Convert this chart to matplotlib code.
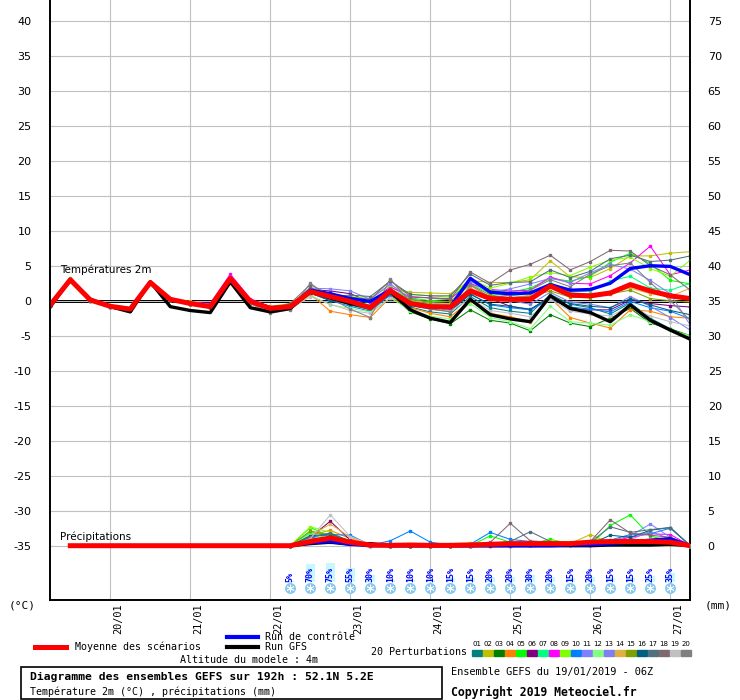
import matplotlib
matplotlib.use("Agg")
import matplotlib.pyplot as plt
import matplotlib.transforms as mtransforms
from matplotlib.lines import Line2D
from matplotlib.patches import Rectangle

# forecast steps, hours after 19/01/2019 06Z
hours = list(range(0, 193, 6))
day_hours = [18, 42, 66, 90, 114, 138, 162, 186]
day_labels = ["20/01", "21/01", "22/01", "23/01", "24/01", "25/01", "26/01", "27/01"]

temp_ticks = list(range(-35, 41, 5))
rr_ticks = list(range(0, 76, 5))

# 2m temperature (°C)
mean_temp = [-0.6, 3.0, 0.1, -0.8, -1.2, 2.6, 0.2, -0.4, -0.85, 3.2, -0.1, -1.1,
             -0.85, 1.3, 0.6, -0.1, -1.0, 1.4, -0.4, -0.85, -0.9, 1.4, 0.3, 0.2,
             0.2, 2.1, 0.8, 0.7, 1.1, 2.3, 1.4, 0.7, 0.3]
ctrl_temp = [-0.6, 3.0, 0.1, -0.8, -1.2, 2.6, 0.2, -0.4, -0.8, 3.0, -0.1, -1.0,
             -0.85, 1.5, 1.0, 0.3, -0.1, 1.5, -0.4, -0.85, -0.9, 3.2, 1.2, 1.0,
             1.1, 2.3, 1.5, 1.6, 2.5, 4.6, 5.0, 4.9, 3.7]
gfs_temp = [-0.85, 3.0, 0.2, -0.85, -1.6, 2.7, -0.85, -1.4, -1.7, 2.7, -1.0, -1.6,
            -1.1, 1.3, 0.4, -0.4, -0.9, 1.3, -1.3, -2.5, -3.1, 0.2, -2.0, -2.6,
            -3.0, 0.7, -1.1, -1.7, -3.0, -0.6, -2.8, -4.2, -5.5]

pert01 = [-0.7, 2.9, 0.1, -0.9, -1.3, 2.6, 0.1, -0.5, -0.9, 3.1, -0.2, -1.2,
          -1.0, 1.2, 0.2, -0.6, -1.3, 1.0, -0.9, -1.6, -1.9, 0.6, -1.0, -1.5,
          -1.8, 0.9, -0.5, -1.0, -1.9, -0.3, -2.5, -4.0, -5.4]
pert02 = [-0.5, 3.0, 0.2, -0.7, -1.1, 2.7, 0.3, -0.1, -0.6, 3.3, 0.1, -0.8,
          -0.4, 1.6, 0.8, 0.4, 0.0, 1.8, 1.2, 1.1, 1.0, 2.9, 2.6, 2.6,
          3.0, 5.7, 3.4, 3.3, 4.6, 6.4, 6.4, 6.8, 7.0]
pert03 = [-0.6, 3.1, 0.0, -0.9, -1.2, 2.5, 0.2, -0.4, -0.9, 3.1, -0.2, -1.2,
          -1.0, 1.0, 0.3, -0.6, -1.2, 0.9, -1.6, -2.6, -3.3, -1.3, -2.8, -3.2,
          -4.3, -2.0, -3.2, -3.7, -2.5, -1.1, -3.2, -4.0, -5.0]
pert04 = [-0.7, 2.9, 0.1, -0.8, -1.3, 2.6, 0.1, -0.5, -1.0, 3.0, -0.3, -1.5,
          -1.1, 0.9, -1.5, -2.0, -2.4, 0.5, -1.0, -1.8, -2.3, 0.0, -1.8, -2.3,
          -3.0, 0.4, -2.4, -3.2, -3.9, -1.3, -1.5, -2.3, -2.5]
pert05 = [-0.4, 3.2, 0.2, -0.8, -1.2, 2.7, 0.3, -0.3, -0.7, 3.4, 0.0, -1.0,
          -0.8, 1.4, 0.6, 0.2, -0.3, 1.6, 0.4, 0.0, 0.2, 3.0, 1.5, 1.2,
          1.8, 3.2, 2.8, 3.5, 5.5, 6.8, 5.3, 2.9, 2.4]
pert06 = [-0.6, 3.0, 0.1, -0.8, -1.2, 2.6, 0.2, -0.4, -0.8, 3.2, -0.1, -1.1,
          -0.9, 1.6, 1.4, 1.0, -0.2, 0.9, -0.5, -0.9, -1.2, 1.5, 0.3, -0.8,
          -1.3, 0.6, -1.3, -1.3, -1.3, 0.1, -0.4, -0.7, -0.9]
pert07 = [-0.5, 3.0, 0.2, -0.8, -1.1, 2.6, 0.2, -0.3, -0.8, 3.3, 0.0, -1.0,
          -0.7, 1.5, 0.8, 0.0, -0.6, 1.8, 0.0, -0.5, -0.6, 2.5, 1.0, 0.8,
          0.5, 2.6, 1.2, 1.4, 2.8, 3.5, 1.8, 1.5, 2.5]
pert08 = [-0.5, 3.0, 0.1, -0.7, -1.1, 2.7, 0.3, -0.2, -0.4, 3.8, 0.3, -0.9,
          -0.6, 1.3, 0.9, 0.4, -0.2, 2.0, 0.5, 0.4, 0.3, 2.4, 1.6, 1.4,
          1.5, 3.4, 2.5, 2.4, 3.6, 5.4, 7.8, 3.7, 4.4]
pert09 = [-0.5, 3.1, 0.2, -0.7, -1.2, 2.6, 0.3, -0.2, -0.7, 3.3, 0.1, -0.9,
          -0.5, 1.7, 1.0, 0.6, 0.3, 2.2, 0.9, 0.7, 0.5, 3.1, 1.8, 2.5,
          3.4, 4.0, 3.6, 4.8, 5.8, 6.2, 4.6, 3.5, 5.8]
pert10 = [-0.8, 2.8, 0.0, -0.9, -1.3, 2.5, 0.1, -0.5, -0.9, 3.0, -0.2, -1.3,
          -0.9, 1.1, 0.0, -0.8, -1.5, 0.8, -0.6, -1.0, -1.4, 1.0, -0.6, -1.0,
          -1.3, 0.2, -0.9, -1.2, -1.6, -0.1, -1.0, -1.5, -2.6]
pert11 = [-0.6, 3.0, 0.1, -0.8, -1.2, 2.6, 0.2, -0.4, -0.8, 3.4, 0.0, -1.0,
          -0.6, 1.8, 1.7, 1.4, 0.2, 2.4, 0.3, -0.3, -0.6, 2.8, 1.2, 1.7,
          2.4, 3.2, 2.6, 4.0, 5.2, 4.5, 2.9, 1.0, -3.5]
pert12 = [-0.6, 2.9, 0.1, -0.9, -1.3, 2.5, 0.1, -0.5, -0.9, 3.0, -0.2, -1.3,
          -1.2, 0.8, -0.6, -1.1, -1.6, 0.4, -1.4, -2.2, -2.6, -0.4, -2.4, -3.0,
          -4.0, -0.8, -3.0, -3.2, -3.5, -2.0, -3.0, -4.2, -5.0]
pert13 = [-0.6, 3.0, 0.1, -0.8, -1.2, 2.6, 0.2, -0.4, -0.8, 3.2, -0.1, -1.1,
          -0.7, 1.2, 0.4, -0.3, -0.9, 1.2, -0.2, -0.6, -0.8, 1.8, 0.2, 0.0,
          -0.5, 1.2, -0.2, -0.5, -1.0, 0.6, -0.8, -2.4, -4.2]
pert14 = [-0.5, 3.0, 0.2, -0.8, -1.1, 2.6, 0.2, -0.2, -0.6, 3.1, 0.0, -1.4,
          -0.5, 1.0, 0.3, -0.2, -0.8, 1.5, 0.1, -0.3, -0.4, 1.8, 0.6, 0.4,
          0.8, 1.9, 1.0, 0.9, 1.2, 1.8, 1.0, 0.6, 1.8]
pert15 = [-0.6, 3.0, 0.1, -0.8, -1.2, 2.6, 0.2, -0.3, -0.7, 3.2, -0.1, -1.1,
          -0.8, 1.3, 0.5, -0.1, -0.7, 1.4, 0.2, -0.2, -0.1, 2.3, 0.8, 0.4,
          0.6, 1.4, 0.5, 0.4, 1.0, 1.5, 0.3, 0.0, -0.2]
pert16 = [-0.7, 2.9, 0.0, -0.9, -1.2, 2.6, 0.1, -0.4, -0.9, 3.1, -0.2, -1.2,
          -1.0, 1.1, 0.0, -0.4, -1.1, 1.1, -0.7, -1.2, -1.5, 0.9, -0.5, -0.8,
          -1.2, 0.5, -0.4, -0.8, -1.0, 0.3, -0.6, -1.4, -2.0]
pert17 = [-0.6, 3.0, 0.1, -0.8, -1.2, 2.6, 0.2, -0.4, -0.8, 3.2, -0.1, -1.0,
          -0.9, 1.9, 0.6, 0.8, 0.6, 2.8, 0.9, 0.7, 0.7, 3.8, 2.2, 2.6,
          2.7, 4.4, 3.3, 4.2, 6.0, 6.5, 5.6, 5.8, 6.4]
pert18 = [-0.6, 3.0, 0.1, -0.8, -1.2, 2.6, 0.2, -0.4, -0.8, 3.1, -0.1, -1.1,
          -0.4, 2.3, 0.8, 0.5, 0.2, 2.9, 0.6, 0.4, 0.2, 4.1, 2.5, 4.4,
          5.2, 6.5, 4.4, 5.6, 7.2, 7.1, 5.0, 3.7, 1.5]
pert19 = [-0.7, 3.0, 0.0, -0.8, -1.3, 2.6, 0.1, -0.5, -0.9, 2.9, -0.3, -1.6,
          -1.2, 0.6, -0.5, -1.4, -1.8, 0.4, -0.3, -1.0, -1.5, 0.3, -1.4, -1.8,
          -2.3, 0.2, -1.5, -1.9, -2.2, -0.8, -2.2, -3.0, -3.6]
pert20 = [-0.8, 2.8, 0.0, -0.9, -1.3, 2.5, 0.1, -0.5, -1.0, 2.5, -0.4, -1.8,
          -1.3, 2.5, 0.4, -1.2, -2.4, 3.1, -0.2, -1.2, -1.6, 2.2, 0.5, 0.8,
          1.5, 3.0, 2.0, 3.8, 5.0, 5.4, 2.6, 0.0, -2.8]

pert_colors = ["#008080", "#c0c000", "#008000", "#ff8000", "#00ff00",
               "#800080", "#00ff80", "#ff00ff", "#80ff00", "#0080ff",
               "#8080ff", "#80ff80", "#7f7ff0", "#e0b040", "#80a000",
               "#006080", "#507080", "#806870", "#c0c0c0", "#808080"]
pert_names = ["01", "02", "03", "04", "05", "06", "07", "08", "09", "10",
              "11", "12", "13", "14", "15", "16", "17", "18", "19", "20"]

# precipitation (mm / 6h)
rr_hours = hours[1:]
mean_rr = [0, 0, 0, 0, 0, 0, 0, 0, 0, 0, 0,
           0.0, 0.6, 1.1, 0.5, 0.1, 0.05, 0.1, 0.05, 0.05, 0.1, 0.2,
           0.3, 0.3, 0.3, 0.3, 0.5, 0.6, 0.6, 0.6, 0.5, 0.0]
ctrl_rr = [0, 0, 0, 0, 0, 0, 0, 0, 0, 0, 0,
           0.0, 0.4, 0.6, 0.2, 0.0, 0.0, 0.0, 0.0, 0.0, 0.0, 0.0,
           0.0, 0.0, 0.0, 0.1, 0.1, 0.3, 0.5, 0.8, 1.0, 0.0]
gfs_rr = [0, 0, 0, 0, 0, 0, 0, 0, 0, 0, 0,
          0.0, 0.3, 0.5, 0.2, 0.3, 0.0, 0.0, 0.0, 0.0, 0.0, 0.0,
          0.0, 0.0, 0.0, 0.0, 0.0, 0.1, 0.1, 0.1, 0.2, 0.0]

pert_rr_hours = hours[12:]
pert01_rr = [0, 1.0, 0.8, 0.3, 0.1, 0, 0, 0, 0, 0, 0.1, 0.2, 0.1, 0.2, 0.2, 0.3, 0.6, 0.4, 0.5, 0.7, 0]
pert02_rr = [0, 2.0, 1.4, 0.4, 0, 0, 0, 0, 0.3, 0.4, 0.2, 0.1, 0.3, 0.4, 0.3, 1.6, 0.4, 0.2, 0.2, 0.3, 0]
pert03_rr = [0, 1.3, 1.6, 0.5, 0.1, 0, 0, 0, 0, 0, 0.1, 0.1, 0.2, 0.5, 0.2, 0.2, 0.4, 0.5, 0.6, 0.8, 0]
pert04_rr = [0, 1.5, 2.2, 1.0, 0.2, 0, 0, 0, 0, 0, 0, 0, 0.1, 0.2, 0.1, 0.1, 0.3, 0.2, 0.3, 0.4, 0]
pert05_rr = [0, 2.6, 1.3, 0.4, 0, 0, 0, 0, 0, 0, 1.4, 0.5, 0.3, 0.9, 0.3, 0.1, 2.9, 4.4, 1.4, 0.6, 0]
pert06_rr = [0, 1.2, 3.5, 0.8, 0.1, 0, 0, 0, 0, 0, 0, 0, 0.1, 0.3, 0.3, 0.1, 0.2, 0.3, 0.4, 0.3, 0]
pert07_rr = [0, 1.8, 0.9, 0.4, 0, 0, 0, 0, 0, 0, 0.3, 0.1, 0.1, 0.2, 0.1, 0.2, 0.5, 0.7, 0.6, 0.4, 0]
pert08_rr = [0, 0.9, 0.7, 0.2, 0, 0, 0, 0, 0, 0, 0.1, 0.1, 0.2, 0.3, 0.2, 0.3, 0.6, 1.2, 1.7, 1.6, 0]
pert09_rr = [0, 2.7, 1.9, 0.6, 0.1, 0, 0, 0, 0, 0, 0.2, 0.3, 0.4, 0.7, 0.5, 0.2, 0.4, 0.5, 0.6, 0.3, 0]
pert10_rr = [0, 1.1, 1.6, 1.5, 0.1, 0.7, 2.1, 0.5, 0.1, 0.2, 1.9, 0.9, 0.6, 0.3, 0.2, 0.2, 0.8, 1.6, 1.7, 2.5, 0]
pert11_rr = [0, 0.8, 0.6, 0.3, 0, 0, 0, 0, 0, 0, 0.1, 0.1, 0.2, 0.2, 0.1, 0.2, 0.7, 1.4, 3.1, 1.2, 0]
pert12_rr = [0, 1.6, 1.0, 0.4, 0.1, 0, 0, 0, 0, 0, 0.2, 0.1, 0.2, 0.4, 0.2, 0.1, 0.3, 0.2, 0.3, 0.2, 0]
pert13_rr = [0, 0.7, 1.2, 0.5, 0.1, 0, 0, 0, 0, 0, 0.1, 0.1, 0.1, 0.2, 0.2, 0.1, 0.4, 0.9, 2.0, 1.0, 0]
pert14_rr = [0, 1.4, 3.1, 1.2, 0.2, 0, 0, 0, 0.1, 0.2, 0.1, 0.1, 0.2, 0.4, 0.2, 0.3, 0.4, 0.3, 0.2, 0.3, 0]
pert15_rr = [0, 2.1, 1.5, 0.6, 0.1, 0, 0, 0, 0, 0.1, 0.2, 0.2, 0.3, 0.6, 0.4, 0.3, 0.5, 0.4, 0.3, 0.2, 0]
pert16_rr = [0, 1.4, 1.7, 0.7, 0.2, 0, 0, 0, 0, 0.1, 0.1, 0.3, 0.5, 0.2, 0.1, 0.2, 1.5, 1.2, 2.2, 2.6, 0]
pert17_rr = [0, 1.2, 1.8, 0.6, 0.1, 0, 0, 0, 0, 0.1, 0.3, 0.6, 2.0, 0.6, 0.3, 0.5, 2.7, 1.9, 2.3, 2.6, 0]
pert18_rr = [0, 0.9, 1.3, 0.5, 0.1, 0, 0, 0, 0, 0.1, 0.5, 3.2, 0.7, 0.5, 0.3, 0.6, 3.7, 1.8, 1.5, 1.2, 0]
pert19_rr = [0, 1.0, 4.4, 1.3, 0.2, 0, 0, 0, 0, 0, 0.1, 0.1, 0.2, 0.3, 0.2, 0.2, 0.4, 0.3, 0.4, 0.3, 0]
pert20_rr = [0, 0.8, 1.1, 0.4, 0.1, 0, 0, 0, 0, 0.1, 0.2, 0.3, 0.4, 0.3, 0.2, 0.3, 0.8, 0.6, 0.5, 0.4, 0]

# probability of snow (%)
snow_hours = hours[12:32]
snow_pct = [5, 70, 75, 55, 30, 10, 10, 10, 15, 15, 20, 20, 30, 20, 15, 20, 15, 15, 25, 35]

pert_temps = [pert01, pert02, pert03, pert04, pert05, pert06, pert07, pert08, pert09, pert10,
              pert11, pert12, pert13, pert14, pert15, pert16, pert17, pert18, pert19, pert20]
pert_rrs = [pert01_rr, pert02_rr, pert03_rr, pert04_rr, pert05_rr, pert06_rr, pert07_rr,
            pert08_rr, pert09_rr, pert10_rr, pert11_rr, pert12_rr, pert13_rr, pert14_rr,
            pert15_rr, pert16_rr, pert17_rr, pert18_rr, pert19_rr, pert20_rr]

W, H = 740, 700
MONO = "DejaVu Sans Mono"


def fx(px):
    return px / W


def fy(py):
    return 1 - py / H


fig = plt.figure(figsize=(W / 100, H / 100), dpi=100)
ax = fig.add_axes([fx(50.3), fy(600.3), (690.3 - 50.3) / W, 600.3 / H])
ax2 = ax.twinx()

t_bottom, t_top = -42.8, 42.96
ax.set_xlim(0, 192)
ax.set_ylim(t_bottom, t_top)
ax2.set_ylim(t_bottom + 35, t_top + 35)

ax.set_yticks(temp_ticks)
ax.set_yticklabels([str(t) for t in temp_ticks])
ax2.set_yticks(rr_ticks)
ax2.set_yticklabels([str(r) for r in rr_ticks])
ax.set_xticks(day_hours)
ax.set_xticklabels(day_labels, rotation=90, family=MONO, fontsize=7.4, va="top", ha="center")

ax.grid(True, color="#c0c0c0", lw=0.8)
ax.set_axisbelow(True)
ax2.grid(False)
ax.tick_params(axis="y", length=0, pad=13.5, labelsize=8)
ax.tick_params(axis="x", length=0, pad=2)
ax2.tick_params(axis="y", length=0, pad=12.5, labelsize=8)

offset = mtransforms.ScaledTranslation(8 / 100, 0, fig.dpi_scale_trans)
for lab in ax.get_xticklabels():
    lab.set_transform(lab.get_transform() + offset)

for a in (ax, ax2):
    a.spines["top"].set_visible(False)
    for side in ("left", "right", "bottom"):
        a.spines[side].set_color("black")
        a.spines[side].set_linewidth(1.2)

# 0°C reference
ax.axhline(0.1, color="black", lw=0.7, zorder=2)
ax.axhline(-0.12, color="black", lw=0.7, zorder=2)

# temperature
for vals, col in zip(pert_temps, pert_colors):
    ax.plot(hours, vals, color=col, lw=0.75, marker="s", ms=1.6, mec=col, zorder=3)
ax.plot(hours, gfs_temp, color="black", lw=2.4, zorder=4)
ax.plot(hours, ctrl_temp, color="#0000ff", lw=2.4, zorder=5)
ax.plot(hours, mean_temp, color="#ff0000", lw=3.6, zorder=6)

# precipitation on the right scale
for vals, col in zip(pert_rrs, pert_colors):
    ax2.plot(pert_rr_hours, vals, color=col, lw=0.75, marker="s", ms=1.6, mec=col, zorder=3)
ax2.plot(rr_hours, gfs_rr, color="black", lw=2.4, zorder=4)
ax2.plot(rr_hours, ctrl_rr, color="#0000ff", lw=2.4, zorder=5)
ax2.plot(rr_hours, mean_rr, color="#ff0000", lw=3.6, zorder=6)

ax.text(3, 4.4, "Températures 2m", fontsize=7.5, va="center", ha="left")
ax.text(3, -33.7, "Précipitations", fontsize=7.5, va="center", ha="left")

# snow probability
ax.bar(snow_hours, [p * 0.036 for p in snow_pct], bottom=-40.2, width=2.8,
       color="#c8f8ff", zorder=2)
for h, p in zip(snow_hours, snow_pct):
    ax.text(h, -40.2, f"{p}%", rotation=90, ha="center", va="bottom",
            color="#0000ff", fontsize=6, family=MONO, fontweight="bold", zorder=7)
ax.scatter(snow_hours, [-41.04] * len(snow_hours), s=62, color="#86c8ee", zorder=7,
           linewidths=0)
ax.scatter(snow_hours, [-41.04] * len(snow_hours), s=26, marker=(6, 2, 0), color="white",
           linewidths=0.6, zorder=8)

fig.text(fx(22), fy(606), "(°C)", fontsize=8, family=MONO, ha="center", va="center")
fig.text(fx(718), fy(606), "(mm)", fontsize=8, family=MONO, ha="center", va="center")

# legend
fig.add_artist(Line2D([fx(35), fx(66)], [fy(647), fy(647)], color="#ff0000", lw=3.6))
fig.text(fx(75), fy(647), "Moyenne des scénarios", fontsize=7.2, family=MONO, va="center")
fig.add_artist(Line2D([fx(227), fx(258)], [fy(637), fy(637)], color="#0000ff", lw=3.0))
fig.text(fx(265), fy(637), "Run de contrôle", fontsize=7.2, family=MONO, va="center")
fig.add_artist(Line2D([fx(227), fx(258)], [fy(647), fy(647)], color="black", lw=3.0))
fig.text(fx(265), fy(647), "Run GFS", fontsize=7.2, family=MONO, va="center")
fig.text(fx(180), fy(660), "Altitude du modele : 4m", fontsize=7.2, family=MONO, va="center")

fig.text(fx(371), fy(652), "20 Perturbations", fontsize=7.2, family=MONO, va="center")
for i, (col, name) in enumerate(zip(pert_colors, pert_names)):
    x0 = 472 + 11 * i
    fig.add_artist(Rectangle((fx(x0), fy(656)), 10 / W, 6 / H, color=col,
                             transform=fig.transFigure))
    fig.text(fx(x0 + 5), fy(644), name, fontsize=5, ha="center", va="center")

fig.add_artist(Rectangle((fx(20.5), fy(699)), (442 - 20.5) / W, 32 / H, fill=False,
                         ec="black", lw=1.2, transform=fig.transFigure))
fig.text(fx(30), fy(677), "Diagramme des ensembles GEFS sur 192h : 52.1N 5.2E",
         fontsize=8.2, family=MONO, fontweight="bold", va="center")
fig.text(fx(30), fy(692), "Température 2m (°C) , précipitations (mm)",
         fontsize=7.2, family=MONO, va="center")
fig.text(fx(451), fy(672), "Ensemble GEFS du 19/01/2019 - 06Z", fontsize=7.4,
         family=MONO, va="center")
fig.text(fx(451), fy(692), "Copyright 2019 Meteociel.fr", fontsize=8.3,
         family=MONO, fontweight="bold", va="center")

fig.savefig("out.png", dpi=100)
